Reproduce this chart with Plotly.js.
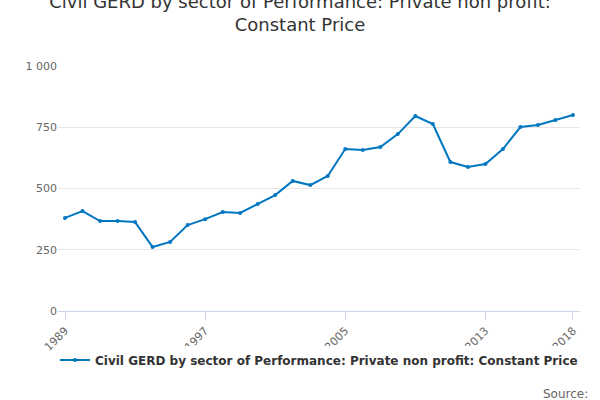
<!DOCTYPE html>
<html>
<head>
<meta charset="utf-8">
<script src="https://cdn.plot.ly/plotly-3.0.1.min.js"></script>
<style>body{margin:0}#myDiv{width:600px;height:400px}</style>
</head>
<body>
<div id="myDiv"></div>
<script>
var years = [1989, 1990, 1991, 1992, 1993, 1994, 1995, 1996, 1997, 1998, 1999, 2000, 2001, 2002, 2003,
    2004, 2005, 2006, 2007, 2008, 2009, 2010, 2011, 2012, 2013, 2014, 2015, 2016, 2017, 2018];
var values = [380, 408, 367, 367, 363, 261, 282, 351, 375, 404, 400, 437, 473, 531, 514,
    551, 661, 657, 669, 722, 796, 763, 608, 588, 600, 661, 751, 759, 780, 800];
var tickYears = [1989, 1997, 2005, 2013, 2018];
var seriesName = '<b>Civil GERD by sector of Performance: Private non profit: Constant Price</b>';

var data = [
    {
        type: 'scatter',
        mode: 'lines+markers',
        x: years,
        y: values,
        name: seriesName,
        line: { color: '#0077c0', width: 2 },
        marker: { color: '#0077c0', size: 4 }
    }
];

var layout = {
    width: 600,
    height: 400,
    margin: { l: 58, r: 20, t: 66, b: 89 },
    title: {
        text: 'Civil GERD by sector of Performance: Private non profit:<br>Constant Price',
        font: { family: 'DejaVu Sans', size: 18, color: '#333' },
        x: 0.5, xanchor: 'center',
        yref: 'container', y: 0.98, yanchor: 'top'
    },
    separators: '. ',
    xaxis: {
        tickvals: tickYears,
        tickangle: -45,
        range: [1988.6, 2018.4],
        showgrid: false,
        showline: true,
        linecolor: '#ccd6eb',
        ticks: 'outside',
        tickcolor: '#ccd6eb',
        ticklen: 8,
        tickfont: { size: 11, color: '#666' }
    },
    yaxis: {
        range: [0, 1000],
        tickvals: [0, 250, 500, 750, 1000],
        tickformat: ',',
        gridcolor: '#e6e6e6',
        zeroline: false,
        tickfont: { size: 11, color: '#666' }
    },
    showlegend: true,
    legend: {
        orientation: 'h',
        x: 0.5, xanchor: 'center',
        yref: 'container', y: 0.1, yanchor: 'middle',
        font: { family: 'DejaVu Sans', size: 12, color: '#333' }
    },
    annotations: [{
        text: 'Source:',
        xref: 'paper', yref: 'paper',
        x: 1.02, y: -0.3,
        xanchor: 'right', yanchor: 'top',
        showarrow: false,
        font: { size: 12, color: '#666' }
    }],
    font: { family: 'DejaVu Sans' },
    paper_bgcolor: '#fff',
    plot_bgcolor: '#fff'
};

Plotly.newPlot('myDiv', data, layout, { displayModeBar: false });
</script>
</body>
</html>
